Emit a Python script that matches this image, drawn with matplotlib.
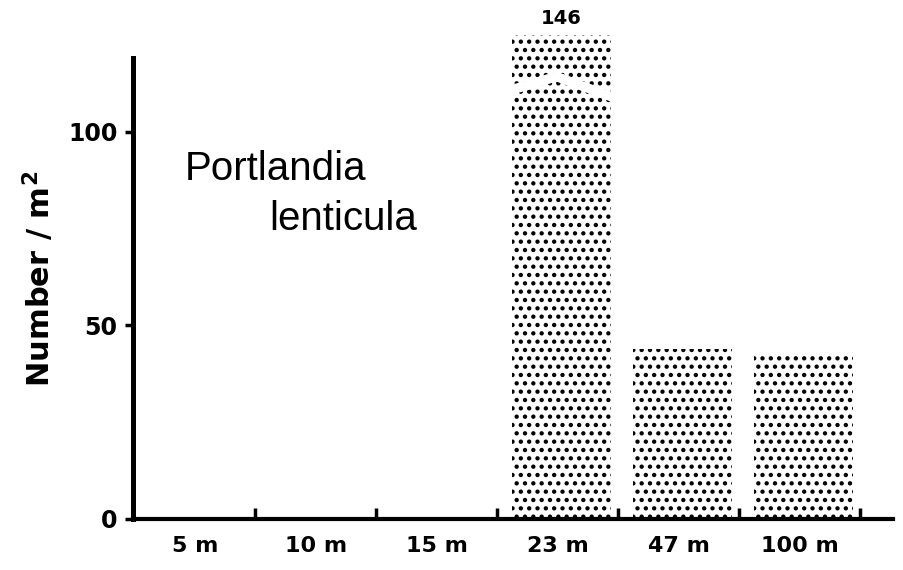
import matplotlib
matplotlib.use("Agg")
import matplotlib.pyplot as plt
import numpy as np

# depth stations and densities (individuals per m^2)
depths = ['5 m', '10 m', '15 m', '23 m', '47 m', '100 m']
density = [0, 0, 0, 146, 44, 42]
y_ticks = [0, 50, 100]
y_top = 119
bar_cap = 125      # tall bars are cut off here and drawn with a break

plt.rcParams['hatch.linewidth'] = 1.9
plt.rcParams['mathtext.fontset'] = 'dejavusans'

fig = plt.figure(figsize=(9.04, 5.70), dpi=100)
ax = fig.add_axes([0.147, 0.0895, 0.8407, 0.8088])

x = np.arange(len(depths))
shown = [min(v, bar_cap) for v in density]
bars = ax.bar(x + 0.03, shown, width=0.82, color='white', edgecolor='black',
              linewidth=0, hatch='..', clip_on=False, zorder=2)

# break mark on bars that run past the cap, with the real value on top
for rect, v in zip(bars, density):
    if v <= bar_cap:
        continue
    x0 = rect.get_x()
    w = rect.get_width()
    xs = np.array([x0 - 0.02, x0 + 0.45 * w, x0 + w + 0.02])
    mid = np.array([110.6, 114.2, 108.8])
    half = 1.3
    poly = np.concatenate([np.column_stack([xs, mid - half]),
                           np.column_stack([xs[::-1], (mid + half)[::-1]])])
    ax.add_patch(plt.Polygon(poly, closed=True, facecolor='white',
                             edgecolor='none', clip_on=False, zorder=3))
    ax.annotate(str(v), (x0 + w / 2, bar_cap), xytext=(0, 5),
                textcoords='offset points', ha='center', va='bottom',
                fontsize=14, fontweight='bold', annotation_clip=False)

ax.set_xlim(-0.512, 5.77)
ax.set_ylim(0, y_top)

for side in ['top', 'right']:
    ax.spines[side].set_visible(False)
ax.spines['left'].set_linewidth(3.6)
ax.spines['bottom'].set_linewidth(3.0)

ax.set_xticks(x)
ax.set_xticklabels(depths, fontsize=16, fontweight='bold')
ax.set_xticks(x + 0.5, minor=True)
ax.tick_params(axis='x', which='major', length=0, pad=12)
ax.tick_params(axis='x', which='minor', direction='in', length=8, width=2.5)

ax.set_yticks(y_ticks)
ax.set_yticklabels([str(t) for t in y_ticks], fontsize=17, fontweight='bold')
ax.tick_params(axis='y', direction='out', length=6, width=2.5, pad=5)

ax.set_ylabel(r'Number / m$^\mathbf{2}$', fontsize=22, fontweight='bold')
ax.yaxis.set_label_coords(-0.1, 0.52)

ax.text(0.068, 0.735, 'Portlandia', transform=ax.transAxes,
        family='Liberation Sans', fontsize=29, ha='left', va='baseline')
ax.text(0.18, 0.627, 'lenticula', transform=ax.transAxes,
        family='Liberation Sans', fontsize=29, ha='left', va='baseline')

fig.savefig('out.png', dpi=100)
